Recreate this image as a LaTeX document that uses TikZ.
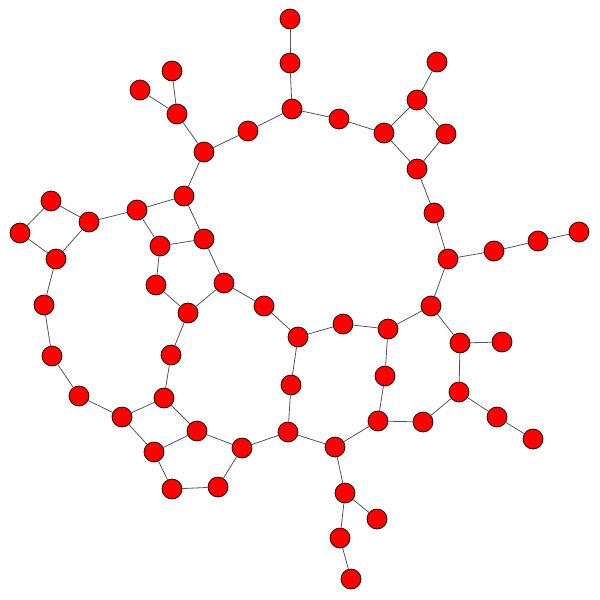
\documentclass[tikz,border=0pt]{standalone}
\usepackage{tikz}
\definecolor{gr_edge}{RGB}{85, 85, 85}
\tikzstyle{rn}=[circle,fill=red,draw=black,
  line width=0.7pt,inner sep=0pt,minimum width=20pt,minimum height=20pt]
\tikzstyle{none}=[]
\begin{document}
\begin{tikzpicture}[x=1pt, y=-1pt, color=gr_edge, line width=0.8pt]
            \useasboundingbox (0,0) rectangle (600,600);
            \node [style=rn] (1) at (290, 19) {};
            \node [style=rn] (2) at (290, 63) {};
            \node [style=rn] (3) at (292, 109) {};
            \node [style=rn] (4) at (248, 131) {};
            \node [style=rn] (5) at (204, 152) {};
            \node [style=rn] (6) at (177, 114) {};
            \node [style=rn] (7) at (172, 71) {};
            \node [style=rn] (8) at (140, 90) {};
            \node [style=rn] (9) at (184, 196) {};
            \node [style=rn] (10) at (137, 210) {};
            \node [style=rn] (11) at (89, 222) {};
            \node [style=rn] (12) at (51, 201) {};
            \node [style=rn] (13) at (20, 233) {};
            \node [style=rn] (14) at (56, 259) {};
            \node [style=rn] (15) at (160, 246) {};
            \node [style=rn] (16) at (204, 239) {};
            \node [style=rn] (17) at (156, 285) {};
            \node [style=rn] (18) at (224, 283) {};
            \node [style=rn] (19) at (264, 306) {};
            \node [style=rn] (20) at (44, 305) {}; % left ring
            \node [style=rn] (21) at (52, 356) {};
            \node [style=rn] (22) at (79, 396) {};
            \node [style=rn] (23) at (122, 417) {};
            \node [style=rn] (24) at (164, 398) {};
            \node [style=rn] (25) at (171, 355) {};
            \node [style=rn] (26) at (188, 313) {};
            \node [style=rn] (27) at (197, 431) {};
            \node [style=rn] (28) at (154, 452) {};
            \node [style=rn] (29) at (172, 489) {};
            \node [style=rn] (30) at (218, 487) {};
            \node [style=rn] (31) at (242, 448) {};
            \node [style=rn] (32) at (288, 432) {}; % bottom
            \node [style=rn] (33) at (291, 385) {};
            \node [style=rn] (34) at (298, 337) {};
            \node [style=rn] (35) at (343, 324) {};
            \node [style=rn] (36) at (388, 329) {};
            \node [style=rn] (37) at (431, 306) {};
            \node [style=rn] (38) at (460, 343) {};
            \node [style=rn] (39) at (502, 342) {};
            \node [style=rn] (40) at (459, 392) {};
            \node [style=rn] (41) at (497, 417) {};
            \node [style=rn] (42) at (533, 439) {};
            \node [style=rn] (43) at (385, 376) {};
            \node [style=rn] (44) at (378, 421) {};
            \node [style=rn] (45) at (423, 422) {};
            \node [style=rn] (46) at (335, 447) {};
            \node [style=rn] (47) at (345, 493) {};
            \node [style=rn] (48) at (377, 519) {};
            \node [style=rn] (49) at (340, 538) {};
            \node [style=rn] (50) at (351, 579) {};
            \node [style=rn] (51) at (339, 119) {}; % top right
            \node [style=rn] (52) at (384, 133) {};
            \node [style=rn] (53) at (417, 100) {};
            \node [style=rn] (54) at (437, 62) {};
            \node [style=rn] (55) at (446, 134) {};
            \node [style=rn] (56) at (417, 169) {};
            \node [style=rn] (57) at (434, 213) {};
            \node [style=rn] (58) at (448, 259) {};
            \node [style=rn] (59) at (494, 251) {};
            \node [style=rn] (60) at (538, 241) {};
            \node [style=rn] (61) at (579, 232) {};
            \draw (1) to (2);
            \draw (2) to (3);
            \draw (3) to (4);
            \draw (4) to (5);
            \draw (5) to (6);
            \draw (6) to (7);
            \draw (6) to (8);
            \draw (5) to (9);
            \draw (9) to (10);
            \draw (10) to (11);
            \draw (11) to (12);
            \draw (12) to (13);
            \draw (13) to (14);
            \draw (14) to (11);
            \draw (14) to (20);
            \draw (9) to (16);
            \draw (10) to (15);
            \draw (15) to (16);
            \draw (15) to (17);
            \draw (16) to (18);
            \draw (17) to (26);
            \draw (18) to (26);
            \draw (18) to (19);
            \draw (19) to (34);
            \draw (20) to (21);
            \draw (21) to (22);
            \draw (22) to (23);
            \draw (23) to (24);
            \draw (24) to (25);
            \draw (25) to (26);
            \draw (24) to (27);
            \draw (23) to (28);
            \draw (28) to (27);
            \draw (28) to (29);
            \draw (29) to (30);
            \draw (30) to (31);
            \draw (27) to (31);
            \draw (31) to (32);
            \draw (32) to (33);
            \draw (33) to (34);
            \draw (34) to (35);
            \draw (35) to (36);
            \draw (36) to (37);
            \draw (36) to (43);
            \draw (43) to (44);
            \draw (44) to (45);
            \draw (45) to (40);
            \draw (40) to (38);
            \draw (38) to (37);
            \draw (38) to (39);
            \draw (40) to (41);
            \draw (41) to (42);
            \draw (32) to (46);
            \draw (46) to (44);
            \draw (46) to (47);
            \draw (47) to (48);
            \draw (47) to (49);
            \draw (49) to (50);
            \draw (3) to (51);
            \draw (51) to (52);
            \draw (52) to (53);
            \draw (53) to (54);
            \draw (53) to (55);
            \draw (55) to (56);
            \draw (52) to (56);
            \draw (56) to (57);
            \draw (57) to (58);
            \draw (58) to (59);
            \draw (59) to (60);
            \draw (60) to (61);
            \draw (58) to (37);
    \end{tikzpicture}
\end{document}
